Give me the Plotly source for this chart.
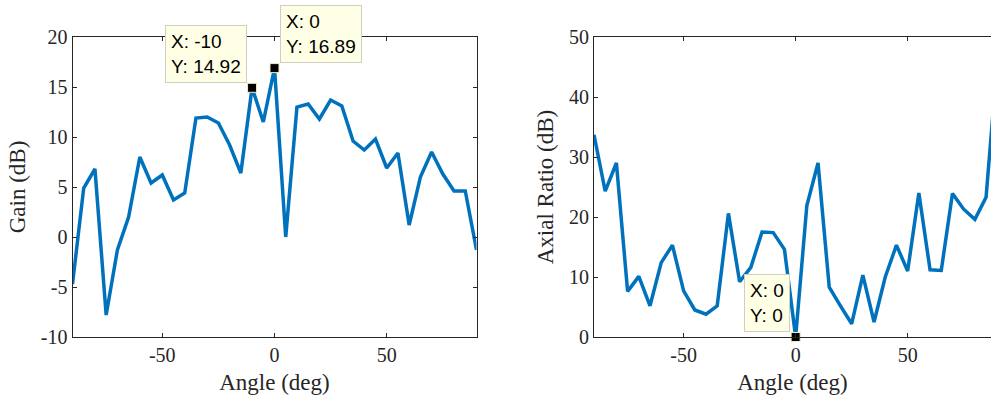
import plotly.graph_objects as go

# ---------------- data ----------------
angles = list(range(-90, 91, 5))
gain_db = [-4.7, 4.9, 6.8, -7.8, -1.3, 2.0, 8.0, 5.4, 6.2, 3.7, 4.4, 11.9, 12.0, 11.4,
           9.2, 6.4, 14.92, 11.5, 16.89, 0.0, 13.0, 13.3, 11.8, 13.7, 13.1, 9.6, 8.7,
           9.8, 6.9, 8.4, 1.2, 6.0, 8.5, 6.3, 4.6, 4.6, -1.3]
axial_ratio_db = [33.7, 24.3, 29.0, 7.6, 10.1, 5.2, 12.4, 15.3, 7.7, 4.5, 3.8, 5.2, 20.6,
                  9.2, 11.6, 17.5, 17.4, 14.6, 0.0, 21.9, 29.0, 8.3, 5.2, 2.2, 10.3, 2.5,
                  10.0, 15.3, 11.0, 24.0, 11.2, 11.1, 23.9, 21.3, 19.6, 23.3, 46.0]

gain_tips_x = [-10, 0]
gain_tips_y = [14.92, 16.89]
ar_tips_x = [0]
ar_tips_y = [0]

x_ticks = [-50, 0, 50]
x_tick_text = ["-50", "0", "50"]
gain_ticks = [-10, -5, 0, 5, 10, 15, 20]
gain_tick_text = ["-10", "-5", "0", "5", "10", "15", "20"]
ar_ticks = [0, 10, 20, 30, 40, 50]
ar_tick_text = ["0", "10", "20", "30", "40", "50"]

# ---------------- styling ----------------
W, H = 991, 400
LINE = "#0072BD"
AX = "#262626"
SERIF = "Liberation Serif, Times New Roman, serif"
SANS = "Liberation Sans, Arial, sans-serif"
TICKF = dict(family=SERIF, size=20, color=AX)
TITLEF = dict(family=SERIF, size=23, color=AX)

y_dom = [1 - 337 / H, 1 - 37 / H]
x_dom1 = [72.5 / W, 476.5 / W]
x_dom2 = [594 / W, 1.0]

fig = go.Figure()
fig.add_trace(go.Scatter(x=angles, y=gain_db, mode="lines",
                         line=dict(color=LINE, width=3.5), xaxis="x", yaxis="y",
                         hoverinfo="skip"))
fig.add_trace(go.Scatter(x=angles, y=axial_ratio_db, mode="lines",
                         line=dict(color=LINE, width=3.5), xaxis="x2", yaxis="y2",
                         hoverinfo="skip"))
marker = dict(symbol="square", size=9, color="black",
              line=dict(color="#F2EDB8", width=1))
fig.add_trace(go.Scatter(x=gain_tips_x, y=gain_tips_y, mode="markers", marker=marker,
                         xaxis="x", yaxis="y", cliponaxis=False, hoverinfo="skip"))
fig.add_trace(go.Scatter(x=ar_tips_x, y=ar_tips_y, mode="markers", marker=marker,
                         xaxis="x2", yaxis="y2", cliponaxis=False, hoverinfo="skip"))

common_axis = dict(showline=True, linecolor=AX, linewidth=1, ticks="inside",
                   ticklen=4, tickcolor=AX, showgrid=False, zeroline=False,
                   tickfont=TICKF, automargin=False)

fig.update_layout(
    width=W, height=H, margin=dict(l=0, r=0, t=0, b=0),
    paper_bgcolor="white", plot_bgcolor="white", showlegend=False,
    xaxis=dict(domain=x_dom1, range=[-90, 90], tickvals=x_ticks, ticktext=x_tick_text,
               mirror="allticks", anchor="y",
               title=dict(text="Angle (deg)", font=TITLEF, standoff=8), **common_axis),
    yaxis=dict(domain=y_dom, range=[-10, 20], tickvals=gain_ticks, ticktext=gain_tick_text,
               mirror="allticks", anchor="x",
               title=dict(text="Gain (dB)", font=TITLEF, standoff=8), **common_axis),
    xaxis2=dict(domain=x_dom2, range=[-90, 87.2], tickvals=x_ticks, ticktext=x_tick_text,
                mirror="allticks", anchor="y2",
                title=dict(text="Angle (deg)", font=TITLEF, standoff=8), **common_axis),
    yaxis2=dict(domain=y_dom, range=[0, 50], tickvals=ar_ticks, ticktext=ar_tick_text,
                anchor="x2",
                title=dict(text="Axial Ratio (dB)", font=TITLEF, standoff=8), **common_axis),
)

tip_style = dict(showarrow=False, align="left", bgcolor="#FFFFE5",
                 bordercolor="#CFCFC0", borderwidth=1, borderpad=5,
                 font=dict(family=SANS, size=19, color="black"))

fig.add_annotation(x=gain_tips_x[0], y=gain_tips_y[0], xref="x", yref="y",
                   text="X: %d<br>Y: %.2f" % (gain_tips_x[0], gain_tips_y[0]),
                   xanchor="right", yanchor="bottom", xshift=-5, yshift=5, **tip_style)
fig.add_annotation(x=gain_tips_x[1], y=gain_tips_y[1], xref="x", yref="y",
                   text="X: %d<br>Y: %.2f" % (gain_tips_x[1], gain_tips_y[1]),
                   xanchor="left", yanchor="bottom", xshift=5, yshift=5, **tip_style)
fig.add_annotation(x=ar_tips_x[0], y=ar_tips_y[0], xref="x2", yref="y2",
                   text="X: %d<br>Y: %d" % (ar_tips_x[0], ar_tips_y[0]),
                   xanchor="right", yanchor="bottom", xshift=-6, yshift=5, **tip_style)

fig.write_html("out.html")
